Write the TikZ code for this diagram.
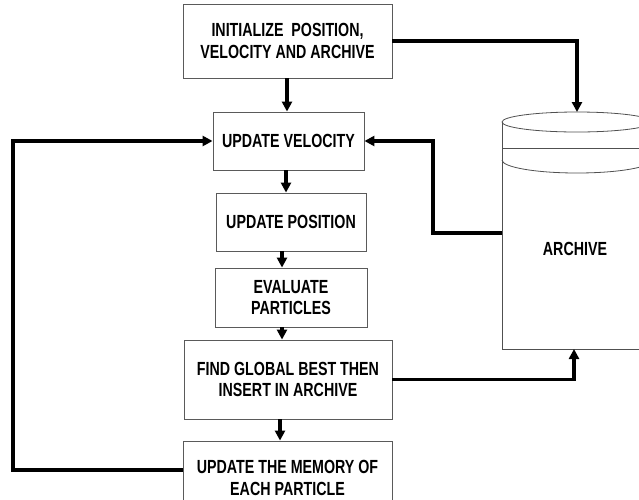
\documentclass[tikz,border=0pt]{standalone}
\usepackage{fontspec}
\setmainfont{Liberation Sans}[FakeStretch=0.75]
\usetikzlibrary{arrows.meta}
\definecolor{boxgray}{HTML}{5A5A5A}
\definecolor{cylgray}{HTML}{505050}
\begin{document}
\begin{tikzpicture}[x=1pt,y=-1pt,
  txt/.style={align=center, inner sep=0pt, font=\fontsize{19}{21.5}\selectfont\bfseries},
  box/.style={txt, draw=boxgray, line width=0.9pt, fill=white},
  conn/.style={line width=3.1pt, line join=miter, -{Triangle[length=10pt,width=10pt]}},
  cyl/.style={draw=cylgray, line width=0.8pt}]
\useasboundingbox (0,0) rectangle (639,499);
\fill[white] (0,0) rectangle (639,499);
\clip (0,0) rectangle (639,499);
% boxes
\node[box, minimum width=209, minimum height=74] (b1) at (287.5,41) {INITIALIZE\ \ POSITION,\\VELOCITY AND ARCHIVE};
\node[box, minimum width=151, minimum height=58] (b2) at (288.5,141) {UPDATE VELOCITY};
\node[box, minimum width=150, minimum height=58] (b3) at (291,222) {UPDATE POSITION};
\node[box, minimum width=152, minimum height=59] (b4) at (291,297.5) {EVALUATE\\PARTICLES};
\node[box, minimum width=208, minimum height=79] (b5) at (288,379.5) {FIND GLOBAL BEST THEN\\INSERT IN ARCHIVE};
\node[box, minimum width=209, minimum height=74] (b6) at (287.5,478) {UPDATE THE MEMORY OF\\EACH PARTICLE};
% archive cylinder
\draw[cyl] (502,122) -- (502,349) -- (660,349);
\draw[cyl] (577,122) ellipse [x radius=75, y radius=10];
\draw[cyl] (502,148) -- (660,148);
\draw[cyl] (502,160) arc[start angle=180, end angle=0, x radius=75, y radius=13];
\node[txt] (arch) at (575,249) {ARCHIVE};
\coordinate (cyltop) at (577,112);
\coordinate (cylbot) at (574,349);
\coordinate (cylleft) at (502,233);
% guides
\coordinate (v1) at (287,0);
\coordinate (v2) at (286,0);
\coordinate (v3) at (282,0);
\coordinate (v5) at (280,0);
\coordinate (l1) at (13,470);
\coordinate (a1) at (433,233);
% connectors
\draw[conn] (b1.south -| v1) -- (b2.north -| v1);
\draw[conn] (b2.south -| v2) -- (b3.north -| v2);
\draw[conn] (b3.south -| v3) -- (b4.north -| v3);
\draw[conn] (b4.south -| v3) -- (b5.north -| v3);
\draw[conn] (b5.south -| v5) -- (b6.north -| v5);
\draw[conn] (b1.east) -- (cyltop |- b1.east) -- (cyltop);
\draw[conn] (b5.east) -- (cylbot |- b5.east) -- (cylbot);
\draw[conn] (cylleft) -- (a1) -- (a1 |- b2.east) -- (b2.east);
\draw[conn] (b6.west |- l1) -- (l1) -- (l1 |- b2.west) -- (b2.west);
\end{tikzpicture}
\end{document}
